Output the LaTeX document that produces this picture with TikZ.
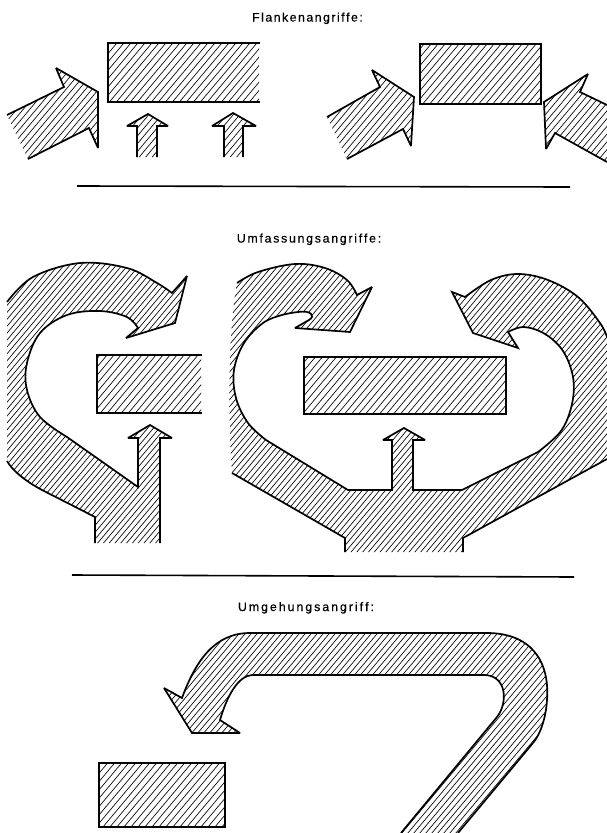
\documentclass[tikz,border=0pt]{standalone}
\usepackage{fontspec}
\newfontfamily\titlefont[FakeBold=0.5]{Liberation Sans}
\ExplSyntaxOn
\NewDocumentCommand\spacedtext{mm}{ \tl_map_inline:nn {#2} { ##1 \kern #1 } \unkern }
\ExplSyntaxOff
\newcommand\hatchfill[1]{\path[draw,hatchl] foreach \i in {0,...,240} {({-720+\i*#1},840) -- ++(705,-840)};}
\begin{document}
\begin{tikzpicture}[x=1pt,y=-1pt,
  outline/.style={line width=1.7pt, line join=miter, miter limit=3, line cap=butt},
  hatchl/.style={line width=0.65pt},
  sepline/.style={line width=1.6pt},
  titletext/.style={anchor=base, inner sep=0pt, font=\titlefont\fontsize{12.3}{14}\selectfont}]
\fill[white] (0,0) rectangle (607,833);
\useasboundingbox (0,0) rectangle (607,833);

% ---------- titles ----------
\node[titletext] (t1) at (307.5,21.5) {\spacedtext{1.5pt}{Flankenangriffe:}};
\node[titletext] (t2) at (309,242.5) {\spacedtext{1.75pt}{Umfassungsangriffe:}};
\node[titletext] (t3) at (306,611) {\spacedtext{2pt}{Umgehungsangriff:}};

% ---------- separators ----------
\coordinate (l1a) at (77,186); \coordinate (l1b) at (570,187);
\coordinate (l2a) at (72,575); \coordinate (l2b) at (574,577);
\draw[sepline] (l1a) -- (l1b);
\draw[sepline] (l2a) -- (l2b);

% ================= Flankenangriffe =================
% rect 1 (open right)
\begin{scope}\clip (108,43) rectangle (259,102); \hatchfill{7}\end{scope}
\draw[outline] (260,43) -- (108,43) -- (108,102) -- (260,102);
% rect 2
\begin{scope}\clip (420,44) rectangle (541,104); \hatchfill{7}\end{scope}
\draw[outline] (420,44) rectangle (541,104);

% arrow 1
\begin{scope}\clip (7,115) -- (64,87) -- (56,68) -- (98,92) -- (98,148) -- (89,128) -- (28,159) -- cycle; \hatchfill{6.5}\end{scope}
\draw[outline] (7,115) -- (64,87) -- (56,68) -- (98,92) -- (98,148) -- (89,128) -- (28,159);
% small arrows
\begin{scope}\clip (137,157) -- (137,126) -- (127,126) -- (148,114) -- (168,126) -- (157,126) -- (157,157) -- cycle; \hatchfill{6.5}\end{scope}
\draw[outline] (137,157) -- (137,126) -- (127,126) -- (148,114) -- (168,126) -- (157,126) -- (157,157);
\begin{scope}\clip (224,157) -- (224,126) -- (212,126) -- (233,113) -- (256,126) -- (243,126) -- (243,157) -- cycle; \hatchfill{6.5}\end{scope}
\draw[outline] (224,157) -- (224,126) -- (212,126) -- (233,113) -- (256,126) -- (243,126) -- (243,157);
% arrow 3
\begin{scope}\clip (327,117) -- (380,87) -- (372,70) -- (414,97) -- (411,146) -- (403,129) -- (347,159) -- cycle; \hatchfill{6.5}\end{scope}
\draw[outline] (327,117) -- (380,87) -- (372,70) -- (414,97) -- (411,146) -- (403,129) -- (347,159);
% arrow 4
\begin{scope}\clip (607,105) -- (580,92) -- (588,74) -- (544,102) -- (546,149) -- (555,133) -- (607,162) -- cycle; \hatchfill{6.5}\end{scope}
\draw[outline] (607,105) -- (580,92) -- (588,74) -- (544,102) -- (546,149) -- (555,133) -- (607,162);

% ================= Umfassungsangriffe =================
% left G
\begin{scope}
\clip (7,302) -- plot[smooth,tension=0.6] coordinates {(7,302) (33,277) (80,263) (127,268) (157,283) (172,293)} -- (187,276) -- (175,323) -- (126,338) -- (138,328) -- plot[smooth,tension=0.6] coordinates {(138,328) (127,317) (100,311) (67,315) (40,333) (27,363) (27,390) (40,417) (67,437)} -- (138,487) -- (138,438) -- (128,438) -- (150,425) -- (172,438) -- (160,438) -- (160,543) -- (95,543) -- (95,517) -- (42,490) .. controls (25,481) and (12,470) .. (7,461) -- cycle;
\hatchfill{5.8}
\end{scope}
\draw[outline] plot[smooth,tension=0.6] coordinates {(7,302) (33,277) (80,263) (127,268) (157,283) (172,293)} -- (187,276) -- (175,323) -- (126,338) -- (138,328) -- plot[smooth,tension=0.6] coordinates {(138,328) (127,317) (100,311) (67,315) (40,333) (27,363) (27,390) (40,417) (67,437)} -- (138,487) -- (138,438) -- (128,438) -- (150,425) -- (172,438) -- (160,438) -- (160,543);
\draw[outline] (7,461) .. controls (12,470) and (25,481) .. (42,490) -- (95,517) -- (95,543);
% left G rect (open right)
\begin{scope}\clip (97,355) rectangle (201,413); \hatchfill{7}\end{scope}
\draw[outline] (202,355) -- (97,355) -- (97,413) -- (202,413);

% middle G
\begin{scope}
\clip (237,283) -- plot[smooth,tension=0.6] coordinates {(237,283) (258,272) (295,264) (325,268) (347,280) (357,295)} -- (372,287) -- (350,332) -- (295,328) -- (309,320) .. controls (316,316) and (311,310) .. (298,312) -- plot[smooth,tension=0.6] coordinates {(298,312) (282,315) (263,323) (244,343) (234,370) (236,398) (248,423) (266,440)} -- (348,490) -- (392,490) -- (392,440) -- (383,440) -- (404,428) -- (425,440) -- (413,440) -- (413,490) -- (462,490) -- (538,452) -- plot[smooth,tension=0.6] coordinates {(538,452) (561,431) (572,404) (573,377) (563,351) (545,334) (524,327) (508,332)} -- (518,348) -- (473,333) -- (452,292) -- (465,297) -- plot[smooth,tension=0.6] coordinates {(465,297) (491,280) (518,274) (548,280) (578,297) (600,323) (607,337)} -- (607,459) -- (463,538) -- (463,552) -- (345,552) -- (345,538) -- (232,473) .. controls (228,420) and (228,330) .. (237,283) -- cycle;
\hatchfill{5.8}
\end{scope}
\draw[outline] plot[smooth,tension=0.6] coordinates {(237,283) (258,272) (295,264) (325,268) (347,280) (357,295)} -- (372,287) -- (350,332) -- (295,328) -- (309,320) .. controls (316,316) and (311,310) .. (298,312) -- plot[smooth,tension=0.6] coordinates {(298,312) (282,315) (263,323) (244,343) (234,370) (236,398) (248,423) (266,440)} -- (348,490) -- (392,490) -- (392,440) -- (383,440) -- (404,428) -- (425,440) -- (413,440) -- (413,490) -- (462,490) -- (538,452) -- plot[smooth,tension=0.6] coordinates {(538,452) (561,431) (572,404) (573,377) (563,351) (545,334) (524,327) (508,332)} -- (518,348) -- (473,333) -- (452,292) -- (465,297) -- plot[smooth,tension=0.6] coordinates {(465,297) (491,280) (518,274) (548,280) (578,297) (600,323) (607,337)};
\draw[outline] (607,459) -- (463,538) -- (463,552);
\draw[outline] (345,552) -- (345,538) -- (232,473);
% middle rect
\begin{scope}\clip (304,357) rectangle (506,414); \hatchfill{7}\end{scope}
\draw[outline] (304,357) rectangle (506,414);

% ================= Umgehungsangriff =================
\begin{scope}
\clip (401,833) -- (497,717) .. controls (508,703) and (507,676) .. (485,675) -- (252,675) .. controls (238,676) and (227,696) .. (220,720) -- (240,733) -- (192,733) -- (164,688) -- (182,698) .. controls (196,660) and (215,633) .. (250,633) -- (487,633) .. controls (530,633) and (550,660) .. (547,700) .. controls (546,718) and (540,735) .. (533,743) -- (458,833) -- cycle;
\hatchfill{6}
\end{scope}
\draw[outline] (401,833) -- (497,717) .. controls (508,703) and (507,676) .. (485,675) -- (252,675) .. controls (238,676) and (227,696) .. (220,720) -- (240,733) -- (192,733) -- (164,688) -- (182,698) .. controls (196,660) and (215,633) .. (250,633) -- (487,633) .. controls (530,633) and (550,660) .. (547,700) .. controls (546,718) and (540,735) .. (533,743) -- (458,833);
% rect 3
\begin{scope}\clip (99,763) rectangle (225,827); \hatchfill{7}\end{scope}
\draw[outline] (99,763) rectangle (225,827);
\end{tikzpicture}
\end{document}
